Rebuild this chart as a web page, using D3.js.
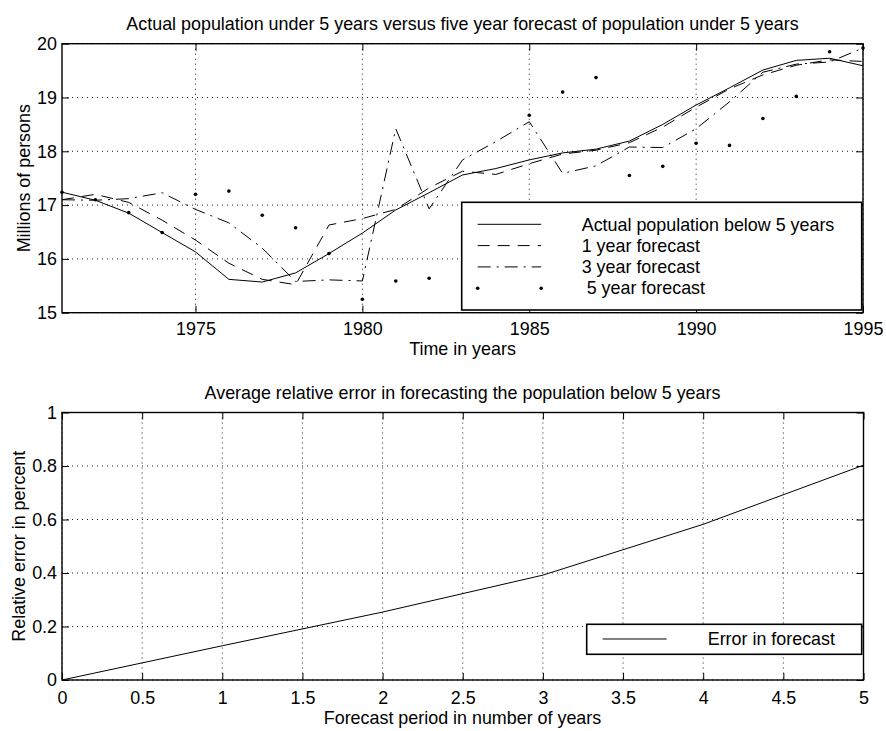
<!DOCTYPE html>
<html>
<head>
<meta charset="utf-8">
<script src="https://cdn.jsdelivr.net/npm/d3@7"></script>
<style>
  body { margin: 0; background: #fff; }
  text { font-family: "Liberation Sans", Arial, Helvetica, sans-serif; fill: #000; }
</style>
</head>
<body>
<div id="wrapper"></div>
<script>
// top chart data
const years = [1971, 1972, 1973, 1974, 1975, 1976, 1977, 1978, 1979, 1980, 1981, 1982, 1983,
               1984, 1985, 1986, 1987, 1988, 1989, 1990, 1991, 1992, 1993, 1994, 1995];
const actualPop = [17.24, 17.09, 16.85, 16.49, 16.13, 15.62, 15.57, 15.74, 16.10, 16.48, 16.91, 17.23, 17.56,
                   17.68, 17.84, 17.97, 18.04, 18.19, 18.50, 18.86, 19.18, 19.51, 19.69, 19.73, 19.59];
const oneYearFc = [17.10, 17.20, 17.05, 16.72, 16.35, 15.92, 15.62, 15.52, 16.63, 16.75, 16.92, 17.32, 17.63,
                   17.57, 17.77, 17.95, 18.02, 18.16, 18.45, 18.82, 19.16, 19.42, 19.60, 19.70, 19.67];
const threeYearFc = [17.10, 17.09, 17.12, 17.23, 16.92, 16.67, 16.20, 15.58, 15.61, 15.59, 18.42, 16.93, 17.84,
                     18.18, 18.55, 17.59, 17.73, 18.08, 18.07, 18.42, 18.92, 19.47, 19.62, 19.66, 19.92];
// 1983 and 1984 sit behind the legend in the picture
const fiveYearFc = [17.24, 17.10, 16.86, 16.49, 17.20, 17.26, 16.81, 16.58, 16.10, 15.25, 15.59, 15.64, null,
                    null, 18.67, 19.10, 19.37, 17.55, 17.72, 18.15, 18.11, 18.61, 19.02, 19.85, 19.92];
const yearTicks = [1975, 1980, 1985, 1990, 1995];
const popTicks = [15, 16, 17, 18, 19, 20];
const topLegend = ["Actual population below 5 years", "1 year forecast", "3 year forecast", " 5 year forecast"];

// bottom chart data
const horizon = [0, 1, 2, 3, 4, 5];
const errorPct = [0, 0.128, 0.254, 0.392, 0.582, 0.803];
const horizonTicks = [0, 0.5, 1, 1.5, 2, 2.5, 3, 3.5, 4, 4.5, 5];
const errTicks = [0, 0.2, 0.4, 0.6, 0.8, 1];

const fontSize = "17.9px";

const svg = d3.select("#wrapper")
    .append("svg")
    .attr("width", 886)
    .attr("height", 731);

svg.append("rect").attr("width", 886).attr("height", 731).attr("fill", "#fff");

function frame(g, x, y, xTicks, yTicks, xFmt, yFmt, padX) {
    const w = x.range()[1] - x.range()[0];
    const h = y.range()[0] - y.range()[1];

    // dotted grid
    g.append("g")
        .selectAll("line.gx")
        .data(xTicks)
        .enter()
        .append("line")
        .attr("x1", d => x(d)).attr("x2", d => x(d))
        .attr("y1", 0).attr("y2", h)
        .attr("stroke", "#000")
        .attr("stroke-width", 0.9)
        .attr("stroke-dasharray", "1,4");
    g.append("g")
        .selectAll("line.gy")
        .data(yTicks)
        .enter()
        .append("line")
        .attr("x1", 0).attr("x2", w)
        .attr("y1", d => y(d)).attr("y2", d => y(d))
        .attr("stroke", "#000")
        .attr("stroke-width", 0.9)
        .attr("stroke-dasharray", "1,4");

    g.append("g")
        .attr("transform", `translate(0,${h})`)
        .call(d3.axisBottom(x).tickValues(xTicks).tickSizeInner(-7).tickSizeOuter(0).tickPadding(padX).tickFormat(xFmt));
    g.append("g")
        .call(d3.axisLeft(y).tickValues(yTicks).tickSizeInner(-7).tickSizeOuter(0).tickPadding(5).tickFormat(yFmt));
    g.append("g")
        .call(d3.axisTop(x).tickValues(xTicks).tickSizeInner(-7).tickSizeOuter(0).tickFormat(""));
    g.append("g")
        .attr("transform", `translate(${w},0)`)
        .call(d3.axisRight(y).tickValues(yTicks).tickSizeInner(-7).tickSizeOuter(0).tickFormat(""));

    g.selectAll(".domain").remove();
    g.selectAll(".tick line").attr("stroke", "#000").attr("stroke-width", 1);
    g.selectAll(".tick text")
        .attr("font-size", fontSize)
        .attr("font-family", "Liberation Sans, Arial, sans-serif")
        .attr("fill", "#000");

    g.append("rect")
        .attr("width", w)
        .attr("height", h)
        .attr("fill", "none")
        .attr("stroke", "#000")
        .attr("stroke-width", 1.4);
}

// ---------- top chart ----------
const top1 = svg.append("g").attr("transform", "translate(62,43.7)");
const xYear = d3.scaleLinear().domain([1971, 1995]).range([0, 801]);
const yPop = d3.scaleLinear().domain([15, 20]).range([269, 0]);

frame(top1, xYear, yPop, yearTicks, popTicks, d3.format("d"), d3.format("d"), 10);

const popLine = vals => d3.line()
    .x((d, i) => xYear(years[i]))
    .y(d => yPop(d))(vals);

const styles = [
    { vals: actualPop, dash: null },
    { vals: oneYearFc, dash: "12,8" },
    { vals: threeYearFc, dash: "13,6,2,6" },
];

styles.forEach(s => {
    top1.append("path")
        .attr("d", popLine(s.vals))
        .attr("fill", "none")
        .attr("stroke", "#000")
        .attr("stroke-width", 1)
        .attr("stroke-dasharray", s.dash);
});

top1.append("g")
    .selectAll("circle")
    .data(years.map((yr, i) => [yr, fiveYearFc[i]]).filter(d => d[1] != null))
    .enter()
    .append("circle")
    .attr("cx", d => xYear(d[0]))
    .attr("cy", d => yPop(d[1]))
    .attr("r", 1.8)
    .attr("fill", "#000");

// legend
const leg = top1.append("g").attr("transform", `translate(${461.7 - 62},${202.3 - 43.7})`);
leg.append("rect")
    .attr("width", 400).attr("height", 107.7)
    .attr("fill", "#fff")
    .attr("stroke", "#000")
    .attr("stroke-width", 1.6);
topLegend.forEach((lab, i) => {
    const yy = 22 + i * 21.3;
    if (i < 3) {
        leg.append("line")
            .attr("x1", 16).attr("x2", 79.5)
            .attr("y1", yy).attr("y2", yy)
            .attr("stroke", "#000")
            .attr("stroke-width", 1)
            .attr("stroke-dasharray", styles[i].dash);
    } else {
        [16, 79.5].forEach(cx => {
            leg.append("circle").attr("cx", cx).attr("cy", yy).attr("r", 1.8).attr("fill", "#000");
        });
    }
    leg.append("text")
        .attr("x", 120)
        .attr("y", yy + 6.3)
        .attr("font-size", fontSize)
        .attr("xml:space", "preserve")
        .style("white-space", "pre")
        .text(lab);
});

svg.append("text")
    .attr("x", 462.5).attr("y", 29.5)
    .attr("text-anchor", "middle")
    .attr("font-size", fontSize)
    .text("Actual population under 5 years versus five year forecast of population under 5 years");
svg.append("text")
    .attr("x", 462.5).attr("y", 355)
    .attr("text-anchor", "middle")
    .attr("font-size", fontSize)
    .text("Time in years");
svg.append("text")
    .attr("transform", "translate(29.5,178.2) rotate(-90)")
    .attr("text-anchor", "middle")
    .attr("font-size", fontSize)
    .text("Millions of persons");

// ---------- bottom chart ----------
const bot = svg.append("g").attr("transform", "translate(62,412.5)");
const xHor = d3.scaleLinear().domain([0, 5]).range([0, 801.5]);
const yErr = d3.scaleLinear().domain([0, 1]).range([267.5, 0]);

frame(bot, xHor, yErr, horizonTicks, errTicks, d3.format("~g"), d3.format("~g"), 11);

bot.append("path")
    .attr("d", d3.line().x((d, i) => xHor(horizon[i])).y(d => yErr(d))(errorPct))
    .attr("fill", "none")
    .attr("stroke", "#000")
    .attr("stroke-width", 1);

const leg2 = bot.append("g").attr("transform", `translate(${586.7 - 62},${624.3 - 412.5})`);
leg2.append("rect")
    .attr("width", 275).attr("height", 30)
    .attr("fill", "#fff")
    .attr("stroke", "#000")
    .attr("stroke-width", 1.6);
leg2.append("line")
    .attr("x1", 16).attr("x2", 80)
    .attr("y1", 14.7).attr("y2", 14.7)
    .attr("stroke", "#000").attr("stroke-width", 1);
leg2.append("text")
    .attr("x", 121).attr("y", 21.2)
    .attr("font-size", fontSize)
    .text("Error in forecast");

svg.append("text")
    .attr("x", 462.5).attr("y", 399.3)
    .attr("text-anchor", "middle")
    .attr("font-size", fontSize)
    .text("Average relative error in forecasting the population below 5 years");
svg.append("text")
    .attr("x", 462.5).attr("y", 724)
    .attr("text-anchor", "middle")
    .attr("font-size", fontSize)
    .text("Forecast period in number of years");
svg.append("text")
    .attr("transform", "translate(24.5,546.2) rotate(-90)")
    .attr("text-anchor", "middle")
    .attr("font-size", fontSize)
    .text("Relative error in percent");
</script>
</body>
</html>
